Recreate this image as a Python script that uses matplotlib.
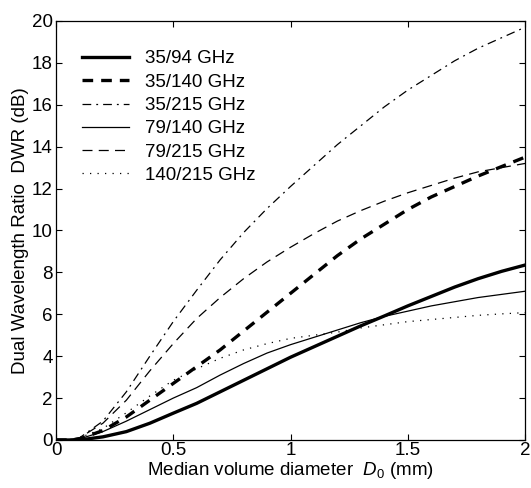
import matplotlib
matplotlib.use("Agg")
import matplotlib.pyplot as plt

plt.rcParams['font.family'] = ['Liberation Sans', 'DejaVu Sans']
plt.rcParams['mathtext.fontset'] = 'custom'
plt.rcParams['mathtext.it'] = 'Liberation Sans:italic'
plt.rcParams['mathtext.rm'] = 'Liberation Sans'

D0 = [0.0, 0.05, 0.1, 0.2, 0.3, 0.4, 0.5, 0.6, 0.7, 0.8, 0.9, 1.0,
      1.1, 1.2, 1.3, 1.4, 1.5, 1.6, 1.7, 1.8, 1.9, 2.0]

dwr_35_94 = [0, 0, 0.0, 0.15, 0.4, 0.8, 1.28, 1.75, 2.3, 2.85, 3.4, 3.95,
             4.45, 4.95, 5.45, 5.92, 6.4, 6.85, 7.3, 7.7, 8.05, 8.35]
dwr_35_140 = [0, 0, 0.05, 0.45, 1.1, 1.9, 2.7, 3.5, 4.3, 5.2, 6.1, 7.0,
              7.9, 8.8, 9.6, 10.3, 11.0, 11.6, 12.1, 12.6, 13.05, 13.5]
dwr_35_215 = [0, 0.01, 0.1, 0.9, 2.3, 4.0, 5.65, 7.15, 8.6, 9.9, 11.05, 12.1,
              13.1, 14.1, 15.0, 15.9, 16.7, 17.4, 18.1, 18.7, 19.2, 19.7]
dwr_79_140 = [0, 0, 0.05, 0.4, 0.9, 1.45, 2.0, 2.5, 3.1, 3.65, 4.15, 4.55,
              4.9, 5.25, 5.6, 5.9, 6.15, 6.4, 6.6, 6.8, 6.95, 7.1]
dwr_79_215 = [0, 0.01, 0.1, 0.8, 1.9, 3.3, 4.6, 5.8, 6.8, 7.7, 8.5, 9.2,
              9.85, 10.45, 10.95, 11.4, 11.8, 12.15, 12.5, 12.8, 13.0, 13.2]
dwr_140_215 = [0, 0, 0.1, 0.55, 1.3, 2.1, 2.85, 3.4, 3.9, 4.3, 4.6, 4.85,
               5.0, 5.15, 5.35, 5.5, 5.65, 5.75, 5.85, 5.95, 6.02, 6.08]

labels = ['35/94 GHz', '35/140 GHz', '35/215 GHz', '79/140 GHz', '79/215 GHz', '140/215 GHz']
x_ticks = [0, 0.5, 1, 1.5, 2]
x_ticklabels = ['0', '0.5', '1', '1.5', '2']
y_ticks = [0, 2, 4, 6, 8, 10, 12, 14, 16, 18, 20]

FS = 13.5

fig = plt.figure(figsize=(5.31, 4.88), dpi=100)
ax = fig.add_axes([56/531, 1-440/488, (525-56)/531, (440-21)/488])

ax.plot(D0, dwr_35_94, color='black', lw=2.4, ls='-', label=labels[0])
ax.plot(D0, dwr_35_140, color='black', lw=2.4, ls=(0, (3.2, 2.4)), label=labels[1])
ax.plot(D0, dwr_35_215, color='black', lw=0.9, ls=(0, (7, 4, 1.5, 4)), label=labels[2])
ax.plot(D0, dwr_79_140, color='black', lw=0.9, ls='-', label=labels[3])
ax.plot(D0, dwr_79_215, color='black', lw=0.9, ls=(0, (8, 5)), label=labels[4])
ax.plot(D0, dwr_140_215, color='black', lw=0.9, ls=(0, (1, 5)), label=labels[5])

ax.set_xlim(0, 2)
ax.set_ylim(0, 20)
ax.set_xticks(x_ticks)
ax.set_xticklabels(x_ticklabels)
ax.set_yticks(y_ticks)
ax.tick_params(direction='in', top=True, right=True, labelsize=FS, length=4.5, width=0.8, pad=2.5)
ax.tick_params(axis='x', pad=1.5)
for s in ax.spines.values():
    s.set_linewidth(0.9)

ax.set_xlabel(r'Median volume diameter  $D_0$ (mm)', fontsize=FS, labelpad=0.5)
ax.set_ylabel('Dual Wavelength Ratio  DWR (dB)', fontsize=FS, labelpad=2)

leg = ax.legend(loc='upper left', bbox_to_anchor=(0.055, 0.93), frameon=False, fontsize=FS,
                handlelength=2.5, handletextpad=0.85, labelspacing=0.33, borderaxespad=0,
                borderpad=0)

fig.savefig('out.png', dpi=100)
